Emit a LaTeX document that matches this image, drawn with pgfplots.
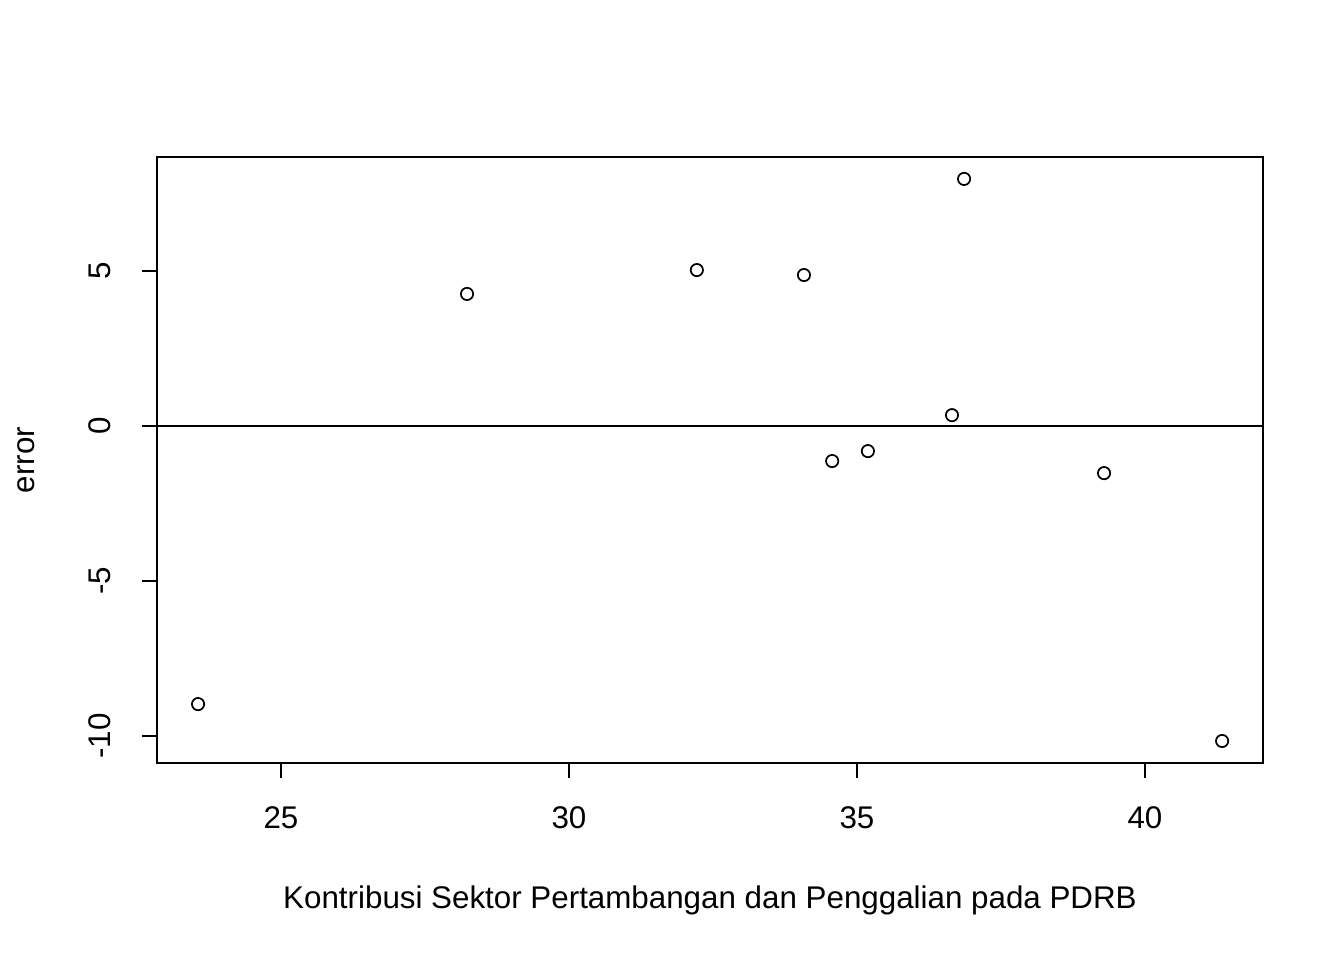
\documentclass[border=0pt]{standalone}
\usepackage{pgfplots}
\pgfplotsset{compat=1.18}
\usepackage{fontspec}
\setmainfont{Liberation Sans}
\begin{document}
\begin{tikzpicture}
\begin{axis}[
  scale only axis, width=829.5pt, height=454.5pt,
  xmin=22.847, xmax=42.05, ymin=-10.87, ymax=8.677,
  axis line style={line width=1pt},
  xtick={25,30,35,40}, ytick={-10,-5,0,5},
  tick align=outside, major tick length=11pt,
  tick style={line width=1pt,black},
  xtick pos=bottom, ytick pos=left,
  /pgf/number format/assume math mode=true,
  ticklabel style={font=\fontsize{23.5}{27}\selectfont},
  xticklabel style={yshift=-18pt},
  yticklabel style={rotate=90, anchor=south, yshift=20pt},
  xlabel={Kontribusi Sektor Pertambangan dan Penggalian pada PDRB},
  ylabel={error},
  label style={font=\fontsize{23.5}{27}\selectfont},
  xlabel style={at={(axis description cs:0.5,0)}, anchor=base, yshift=-109pt},
  ylabel style={at={(axis description cs:0,0.5)}, anchor=base, rotate=0, yshift=92pt},
]
\addplot[black, line width=1pt] coordinates {(22.847,0) (42.05,0)};
\addplot[only marks, mark=o, mark size=4.6pt, line width=1.3pt, black] coordinates {
(23.56,-8.97) (28.23,4.26) (32.22,5.03) (34.08,4.87) (34.57,-1.13)
(35.19,-0.81) (36.65,0.35) (36.86,7.97) (39.29,-1.52) (41.34,-10.16)};
\end{axis}
\path ([shift={(-117.75pt,-147.75pt)}]current axis.south west) rectangle ([shift={(60.75pt,117.75pt)}]current axis.north east);
\end{tikzpicture}
\end{document}
